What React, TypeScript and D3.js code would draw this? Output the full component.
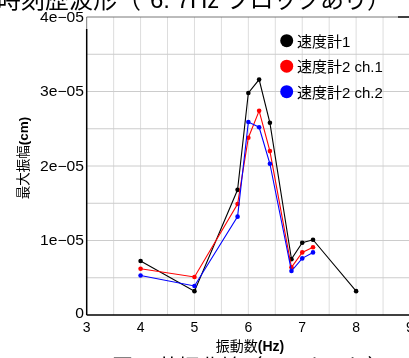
import React, { useEffect, useRef } from "react";
import * as d3 from "d3";

const freq1 = [4, 5, 5.8, 6.0, 6.2, 6.4, 6.8, 7.0, 7.2, 8];
const amp1 = [0.725e-5, 0.32e-5, 1.68e-5, 2.98e-5, 3.16e-5, 2.58e-5, 0.75e-5, 0.97e-5, 1.01e-5, 0.32e-5];

const freq2 = [4, 5, 5.8, 6.0, 6.2, 6.4, 6.8, 7.0, 7.2];
const amp2ch1 = [0.62e-5, 0.51e-5, 1.49e-5, 2.38e-5, 2.74e-5, 2.2e-5, 0.64e-5, 0.84e-5, 0.91e-5];
const amp2ch2 = [0.53e-5, 0.39e-5, 1.32e-5, 2.59e-5, 2.52e-5, 2.03e-5, 0.59e-5, 0.76e-5, 0.84e-5];

const seriesNames = ["速度計1", "速度計2 ch.1", "速度計2 ch.2"];
const seriesColors = ["#000000", "#ff0000", "#0000ff"];

const xTicks = [3, 4, 5, 6, 7, 8, 9];
const yTicks = [0, 1e-5, 2e-5, 3e-5, 4e-5];
const yTickLabels = ["0", "1e\u221205", "2e\u221205", "3e\u221205", "4e\u221205"];

const FONT = "'Liberation Sans', Arial, 'Noto Sans CJK JP', sans-serif";

const App = () => {
  const ref = useRef<SVGSVGElement>(null);

  useEffect(() => {
    const svg = d3.select(ref.current).attr("width", 409).attr("height", 358);
    svg.selectAll("*").remove();

    const x = d3.scaleLinear().domain([3, 9]).range([86.7, 410]);
    const y = d3.scaleLinear().domain([0, 4e-5]).range([315, 17]);

    // grid
    const g = svg.append("g");
    g.selectAll("line.vx")
      .data(d3.range(3.5, 9.01, 0.5))
      .join("line")
      .attr("x1", (d) => x(d))
      .attr("x2", (d) => x(d))
      .attr("y1", y(0))
      .attr("y2", y(4e-5))
      .attr("stroke", "#dddddd")
      .attr("stroke-width", 1);
    g.selectAll("line.hy")
      .data(d3.range(0.5e-5, 3.9e-5, 0.5e-5))
      .join("line")
      .attr("x1", x(3))
      .attr("x2", 409)
      .attr("y1", (d) => y(d))
      .attr("y2", (d) => y(d))
      .attr("stroke", "#cccccc")
      .attr("stroke-width", 1);

    // frame
    svg.append("line")
      .attr("x1", x(3)).attr("x2", 398)
      .attr("y1", y(4e-5)).attr("y2", y(4e-5))
      .attr("stroke", "#555").attr("stroke-width", 0.8);
    svg.append("line")
      .attr("x1", 398).attr("x2", 409)
      .attr("y1", y(4e-5)).attr("y2", y(4e-5))
      .attr("stroke", "#000").attr("stroke-width", 1.5);
    svg.append("line")
      .attr("x1", x(3)).attr("x2", x(3))
      .attr("y1", y(4e-5)).attr("y2", 29)
      .attr("stroke", "#555").attr("stroke-width", 0.8);
    svg.append("line")
      .attr("x1", x(3)).attr("x2", x(3))
      .attr("y1", 29).attr("y2", y(0))
      .attr("stroke", "#000").attr("stroke-width", 1.5);
    svg.append("line")
      .attr("x1", x(3)).attr("x2", 409)
      .attr("y1", y(0)).attr("y2", y(0))
      .attr("stroke", "#000").attr("stroke-width", 1.5);

    // tick labels
    svg.append("g")
      .selectAll("text")
      .data(xTicks)
      .join("text")
      .attr("x", (d) => x(d))
      .attr("y", 332)
      .attr("text-anchor", "middle")
      .attr("font-family", FONT)
      .attr("font-size", 14)
      .text((d) => d);
    svg.append("g")
      .selectAll("text")
      .data(yTicks)
      .join("text")
      .attr("x", 84)
      .attr("y", (d) => (d === 0 ? 318 : y(d) + 5))
      .attr("text-anchor", "end")
      .attr("font-family", FONT)
      .attr("font-size", 14)
      .attr("transform", `translate(${84 * -0.12},0) scale(1.12,1)`)
      .text((d, i) => yTickLabels[i]);

    // series
    const series = [
      { fx: freq1, vy: amp1 },
      { fx: freq2, vy: amp2ch1 },
      { fx: freq2, vy: amp2ch2 },
    ];
    const line = d3.line<[number, number]>().x((d) => x(d[0])).y((d) => y(d[1]));
    series.forEach((s, i) => {
      const pts = s.fx.map((f, j) => [f, s.vy[j]] as [number, number]);
      svg.append("path")
        .attr("d", line(pts))
        .attr("fill", "none")
        .attr("stroke", seriesColors[i])
        .attr("stroke-width", 1.1);
      svg.append("g")
        .selectAll("circle")
        .data(pts)
        .join("circle")
        .attr("cx", (d) => x(d[0]))
        .attr("cy", (d) => y(d[1]))
        .attr("r", 2.3)
        .attr("fill", seriesColors[i]);
    });

    // legend
    const leg = svg.append("g");
    seriesNames.forEach((name, i) => {
      const cy = 40.7 + i * 25.5;
      leg.append("circle").attr("cx", 286.7).attr("cy", cy).attr("r", 6.5).attr("fill", seriesColors[i]);
      leg.append("text")
        .attr("x", 297)
        .attr("y", cy + 6)
        .attr("font-family", FONT)
        .attr("font-size", 15)
        .text(name);
    });

    // axis titles
    svg.append("text")
      .attr("x", 250)
      .attr("y", 351)
      .attr("text-anchor", "middle")
      .attr("font-family", FONT)
      .attr("font-size", 14)
      .html("振動数<tspan font-weight='bold'>(Hz)</tspan>");
    svg.append("text")
      .attr("transform", "translate(28,158) rotate(-90)")
      .attr("text-anchor", "middle")
      .attr("font-family", FONT)
      .attr("font-size", 13.5)
      .html("最大振幅<tspan font-weight='bold'>(cm)</tspan>");

    // cut-off title and caption
    const title = svg.append("text")
      .attr("y", 8)
      .attr("font-family", FONT)
      .attr("font-size", 24);
    title.append("tspan").attr("x", -3).text("時刻歴波形（");
    title.append("tspan").attr("x", 150).text("6. 7Hz");
    title.append("tspan").attr("x", 226).attr("textLength", 165).attr("lengthAdjust", "spacing").text("ブロックあり）");
    svg.append("text")
      .attr("x", 112)
      .attr("y", 374)
      .attr("font-family", FONT)
      .attr("font-size", 21)
      .text("図-5 共振曲線（ロックあり）");
  }, []);

  return <svg ref={ref} style={{ position: "fixed", left: 0, top: 0 }}></svg>;
};

export default App;
